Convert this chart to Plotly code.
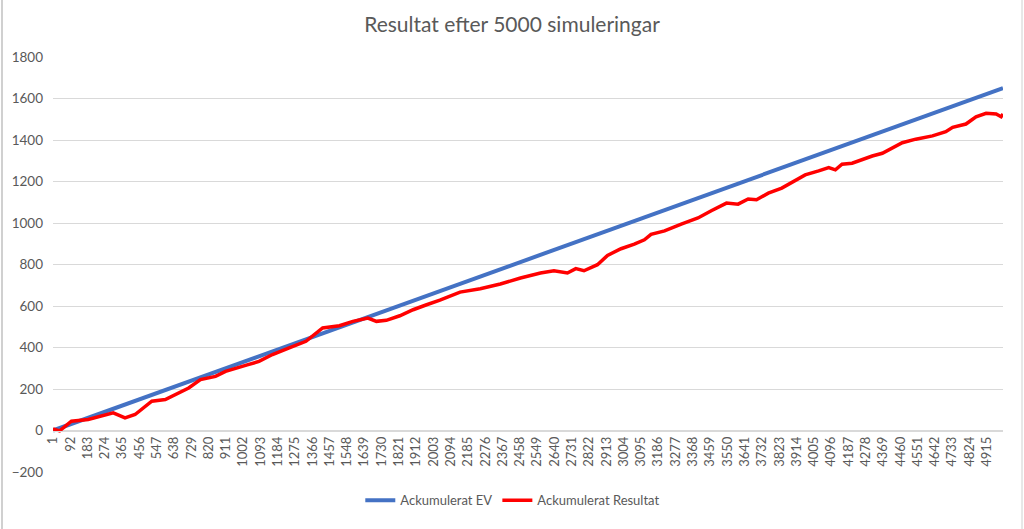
import plotly.graph_objects as go

# Category positions (simulation index) and values
ev_x = [1, 1032, 2037, 3095, 5000]
ev_y = [0, 341, 672, 1021, 1650]

res_x = [1, 36, 98, 186, 318, 380, 433, 521, 592, 645, 715, 777, 856, 909, 962,
         1023, 1085, 1156, 1244, 1332, 1420, 1508, 1579, 1658, 1703, 1755, 1826,
         1896, 1967, 2037, 2143, 2249, 2355, 2461, 2566, 2637, 2708, 2752, 2795,
         2866, 2919, 2990, 3060, 3113, 3148, 3219, 3307, 3395, 3465, 3545, 3606,
         3659, 3703, 3765, 3836, 3906, 3959, 4030, 4083, 4118, 4153, 4206, 4312,
         4365, 4418, 4470, 4541, 4629, 4699, 4735, 4805, 4858, 4911, 4964, 4990, 5000]
res_y = [8, -2, 45, 53, 85, 61, 77, 141, 149, 173, 205, 245, 261, 285, 301,
         316, 333, 366, 398, 430, 494, 505, 526, 542, 526, 531, 553,
         582, 606, 628, 667, 683, 706, 735, 759, 770, 759, 780, 770,
         799, 844, 876, 898, 919, 945, 962, 995, 1024, 1059, 1096, 1091,
         1116, 1112, 1144, 1168, 1203, 1232, 1251, 1267, 1256, 1283, 1288, 1323,
         1336, 1360, 1387, 1404, 1420, 1440, 1461, 1477, 1512, 1529, 1525, 1512, 1525]

tick_labels = [1, 92, 183, 274, 365, 456, 547, 638, 729, 820, 911, 1002, 1093, 1184,
               1275, 1366, 1457, 1548, 1639, 1730, 1821, 1912, 2003, 2094, 2185,
               2276, 2367, 2458, 2549, 2640, 2731, 2822, 2913, 3004, 3095, 3186,
               3277, 3368, 3459, 3550, 3641, 3732, 3823, 3914, 4005, 4096, 4187,
               4278, 4369, 4460, 4551, 4642, 4733, 4824, 4915]
y_ticks = [-200, 0, 200, 400, 600, 800, 1000, 1200, 1400, 1600, 1800]

FONT = "Lato"
GREY = "#595959"

fig = go.Figure()
fig.add_trace(go.Scatter(x=ev_x, y=ev_y, mode="lines", name="Ackumulerat EV",
                         line=dict(color="#4472C4", width=4)))
fig.add_trace(go.Scatter(x=res_x, y=res_y, mode="lines", name="Ackumulerat Resultat",
                         line=dict(color="#FF0000", width=3.5)))

# spreadsheet frame around the chart
shapes = [
    dict(type="line", xref="paper", yref="paper", x0=-0.0537, x1=-0.0537, y0=-0.14, y1=1.14,
         line=dict(color="#d0d0d0", width=2)),
    dict(type="line", xref="paper", yref="paper", x0=1.0200, x1=1.0200, y0=-0.14, y1=1.14,
         line=dict(color="#d0d0d0", width=1)),
]

fig.update_layout(
    width=1024, height=529,
    margin=dict(l=53, r=21, t=57, b=57),
    paper_bgcolor="white", plot_bgcolor="white",
    title=dict(text="Resultat efter 5000 simuleringar", x=0.5, xanchor="center",
               y=0.953, yanchor="middle",
               font=dict(family=FONT, size=21, color=GREY)),
    font=dict(family=FONT, color=GREY),
    showlegend=True,
    legend=dict(orientation="h", x=0.484, xanchor="center", y=-0.068, yanchor="middle",
                font=dict(family=FONT, size=13, color=GREY), itemwidth=30),
    xaxis=dict(range=[1, 5000], tickmode="array", tickvals=tick_labels,
               ticktext=[str(t) for t in tick_labels], tickangle=-90,
               tickfont=dict(family=FONT, size=13, color=GREY),
               anchor="free", position=0.1, showgrid=False, zeroline=False,
               showline=True, linecolor="#d9d9d9", linewidth=1, ticks=""),
    yaxis=dict(range=[-200, 1800], tickmode="array", tickvals=y_ticks,
               tickfont=dict(family=FONT, size=13.5, color=GREY),
               showgrid=True, gridcolor="#d9d9d9", gridwidth=1,
               zeroline=False, showline=False, ticks="", ticklabelstandoff=9),
    shapes=shapes,
)

fig.write_html("out.html")
